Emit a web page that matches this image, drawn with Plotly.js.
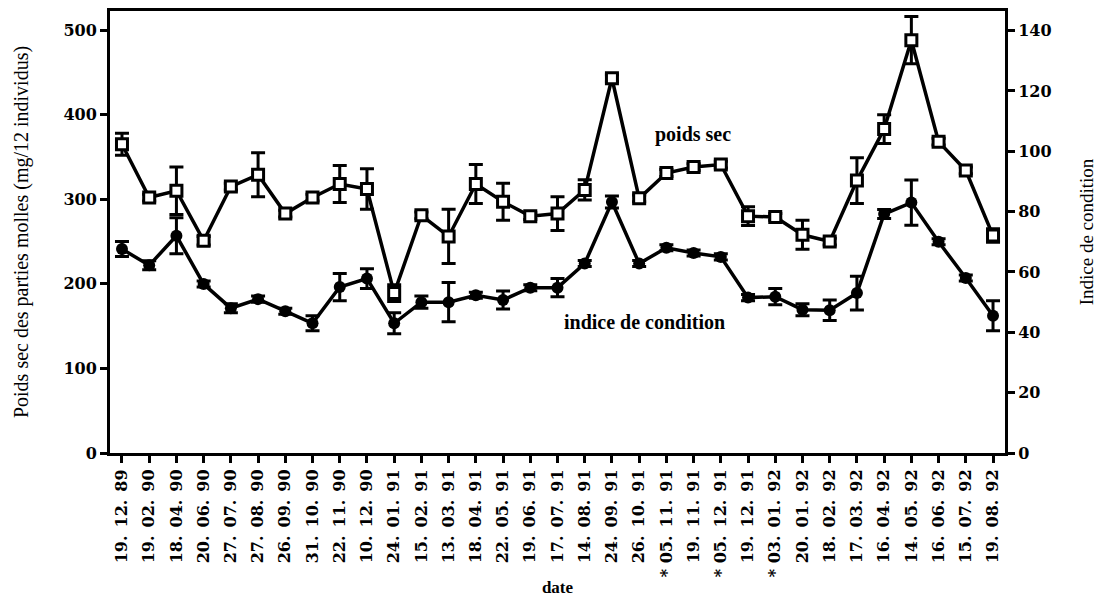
<!DOCTYPE html>
<html>
<head>
<meta charset="utf-8">
<script src="https://cdn.plot.ly/plotly-3.0.1.min.js"></script>
<style>html,body{margin:0;padding:0;background:#fff;}</style>
</head>
<body>
<div id="chart" style="width:1101px;height:597px;"></div>
<script>
// ---- data ----
const dates = ["19. 12. 89","19. 02. 90","18. 04. 90","20. 06. 90","27. 07. 90","27. 08. 90","26. 09. 90","31. 10. 90","22. 11. 90","10. 12. 90","24. 01. 91","15. 02. 91","13. 03. 91","18. 04. 91","22. 05. 91","19. 06. 91","17. 07. 91","14. 08. 91","24. 09. 91","26. 10. 91","* 05. 11. 91","19. 11. 91","* 05. 12. 91","19. 12. 91","* 03. 01. 92","20. 01. 92","18. 02. 92","17. 03. 92","16. 04. 92","14. 05. 92","16. 06. 92","15. 07. 92","19. 08. 92"];
const poidsSec = [365,302,310,251,315,329,283,302,318,312,189,281,256,318,297,280,283,311,443,301,331,338,341,280,279,258,250,322,383,488,368,334,257];
const poidsSecErr = [13,4,28,5,4,26,4,4,22,24,10,4,32,23,22,4,20,12,4,4,4,4,4,11,4,17,4,27,17,28,4,4,8];
const indice = [67.6,62.2,72,56,48,51,47,43,55,57.8,43,50,50,52.3,50.7,54.8,54.8,62.8,83.2,62.8,68,66.3,65,51.5,51.8,47.5,47.3,53,79.2,83,70,58,45.5];
const indiceErr = [2.5,1.5,6,1,1.5,1,1,2.5,4.5,3.3,3.5,2,6.5,1,3,1,3,1,2,1,1,1,1,1,2.7,2,3.4,5.6,1.5,7.5,1,1,5];
const leftTicks = [0,100,200,300,400,500];
const rightTicks = [0,20,40,60,80,100,120,140];

// ---- chart ----
const idx = dates.map((d, i) => i);
const tickFont = {family: "DejaVu Serif", size: 16, color: "#000", weight: "bold"};

const tracePoids = {
  x: idx, y: poidsSec, type: "scatter", mode: "lines+markers", name: "poids sec",
  line: {color: "#000", width: 3.5},
  marker: {symbol: "square", size: 11, color: "#fff", line: {color: "#000", width: 3}},
  error_y: {type: "data", array: poidsSecErr, visible: true, color: "#000", thickness: 3, width: 7},
  cliponaxis: false
};
const traceIndice = {
  x: idx, y: indice, type: "scatter", mode: "lines+markers", name: "indice de condition",
  yaxis: "y2",
  line: {color: "#000", width: 3.5},
  marker: {symbol: "circle", size: 12, color: "#000"},
  error_y: {type: "data", array: indiceErr, visible: true, color: "#000", thickness: 3, width: 7},
  cliponaxis: false
};

const layout = {
  width: 1101, height: 597,
  margin: {l: 110, r: 96, t: 11, b: 144},
  paper_bgcolor: "#fff", plot_bgcolor: "#fff",
  showlegend: false,
  xaxis: {
    range: [-0.44, dates.length - 1 + 0.44],
    tickmode: "array", tickvals: idx, ticktext: dates.map(d => d.replace(/\. /g, ".\u2002")),
    tickangle: -90, tickfont: tickFont,
    ticks: "outside", ticklen: 7, tickwidth: 3, tickcolor: "#000",
    showline: true, linewidth: 3, linecolor: "#000", mirror: true,
    showgrid: false, zeroline: false,
    title: {text: "date", font: {family: "Liberation Serif", size: 17, color: "#000", weight: "bold"}, standoff: 9}
  },
  yaxis: {
    range: [0, 522.5], tickmode: "array", tickvals: leftTicks, ticktext: leftTicks.map(String),
    tickfont: tickFont,
    ticks: "outside", ticklen: 7, tickwidth: 3, tickcolor: "#000",
    showline: true, linewidth: 3, linecolor: "#000",
    showgrid: false, zeroline: false,
    title: {text: "Poids sec des parties molles (mg/12 individus)", font: {family: "Liberation Serif", size: 20, color: "#000"}, standoff: 30}
  },
  yaxis2: {
    range: [0, 146.5], overlaying: "y", side: "right",
    tickmode: "array", tickvals: rightTicks, ticktext: rightTicks.map(String),
    tickfont: tickFont,
    ticks: "outside", ticklen: 7, tickwidth: 3, tickcolor: "#000",
    showline: true, linewidth: 3, linecolor: "#000",
    showgrid: false, zeroline: false,
    title: {text: "Indice de condition", font: {family: "Liberation Serif", size: 19, color: "#000"}, standoff: 30}
  },
  annotations: [
    {x: 20.98, y: 376, xref: "x", yref: "y", text: "poids sec", showarrow: false,
     font: {family: "Liberation Serif", size: 20, color: "#000", weight: "bold"}},
    {x: 19.18, y: 155, xref: "x", yref: "y", text: "indice de condition", showarrow: false,
     font: {family: "Liberation Serif", size: 20, color: "#000", weight: "bold"}}
  ]
};

Plotly.newPlot("chart", [tracePoids, traceIndice], layout, {displayModeBar: false, staticPlot: true});
</script>
</body>
</html>
